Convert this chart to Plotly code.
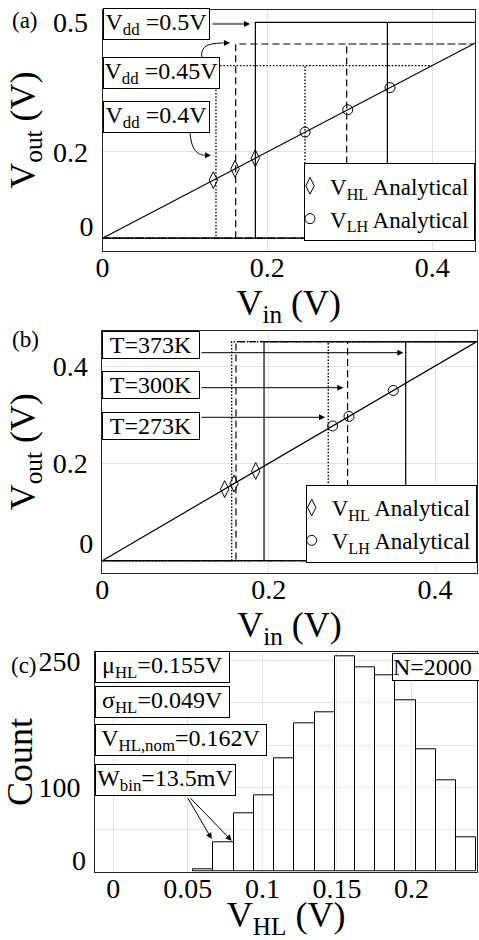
import plotly.graph_objects as go

W, H = 479, 940
FONT = "Liberation Serif, Times New Roman, serif"

# ---------------- data: panel (a) supply-voltage sweep ----------------
A_VDD = [0.4, 0.45, 0.5]
A_VDD_LABELS = ["V<sub>dd</sub> =0.4V", "V<sub>dd</sub> =0.45V", "V<sub>dd</sub> =0.5V"]
A_VHL_SIM = [0.1377, 0.1616, 0.1855]
A_VLH_SIM = [0.2457, 0.2963, 0.3457]
A_VHL_ANA = [0.1345, 0.1608, 0.1854]
A_VLH_ANA = [0.2458, 0.2976, 0.3489]

# ---------------- data: panel (b) temperature sweep ----------------
B_VDD = 0.45
B_TEMP_LABELS = ["T=273K", "T=300K", "T=373K"]
B_VHL_SIM = [0.1555, 0.1607, 0.1944]
B_VLH_SIM = [0.2716, 0.2948, 0.3647]
B_VHL_ANA = [0.1471, 0.1583, 0.1844]
B_VLH_ANA = [0.2769, 0.2965, 0.3498]

# ---------------- data: panel (c) histogram ----------------
C_BIN_START = 0.0536
C_BIN_WIDTH = 0.01357
C_COUNTS = [3, 35, 69, 90, 134, 176, 189, 255, 242, 233, 203, 145, 108, 41]
C_STATS = ["μ<sub>HL</sub>=0.155V", "σ<sub>HL</sub>=0.049V",
           "V<sub>HL,nom</sub>=0.162V", "W<sub>bin</sub>=13.5mV"]
C_N_LABEL = "N=2000"

DIAG = [0, 0.5]
A_XTICKS = [0, 0.2, 0.4]
A_YTICKS = [0, 0.2, 0.5]
B_XTICKS = [0, 0.2, 0.4]
B_YTICKS = [0, 0.2, 0.4]
C_XTICKS = [0, 0.05, 0.1, 0.15, 0.2]
C_YTICKS = [0, 50, 100, 150, 200, 250]
C_YLABELED = [100, 250]

STYLES = ["dot", "dash", "solid"]
DASH = {"dot": "1.5px,1.8px", "dash": "7px,4px", "solid": "solid"}
WIDTH = {"dot": 1.4, "dash": 1.2, "solid": 1.2}


def PX(x):
    return x / W


def PY(y):
    return 1 - y / H


def loop(vhl, vlh, vdd):
    return [0, vlh, vlh, vdd, vhl, vhl, 0], [0, 0, vdd, vdd, vdd, 0, 0]


fig = go.Figure()

# ---- panel (a)
fig.add_trace(go.Scatter(x=DIAG, y=DIAG, mode="lines", line=dict(color="black", width=1.2),
                         showlegend=False, hoverinfo="skip", xaxis="x", yaxis="y"))
for vhl, vlh, vdd, st in zip(A_VHL_SIM, A_VLH_SIM, A_VDD, STYLES):
    xs, ys = loop(vhl, vlh, vdd)
    fig.add_trace(go.Scatter(x=xs, y=ys, mode="lines",
                             line=dict(color="black", width=WIDTH[st], dash=DASH[st]),
                             showlegend=False, xaxis="x", yaxis="y"))
fig.add_trace(go.Scatter(x=A_VHL_ANA, y=A_VHL_ANA, mode="markers", name="V<sub>HL</sub> Analytical",
                         marker=dict(symbol="diamond-tall-open", size=12, color="black", line=dict(width=1)),
                         xaxis="x", yaxis="y", legend="legend"))
fig.add_trace(go.Scatter(x=A_VLH_ANA, y=A_VLH_ANA, mode="markers", name="V<sub>LH</sub> Analytical",
                         marker=dict(symbol="circle-open", size=10, color="black", line=dict(width=1)),
                         xaxis="x", yaxis="y", legend="legend"))

# ---- panel (b)
fig.add_trace(go.Scatter(x=DIAG, y=DIAG, mode="lines", line=dict(color="black", width=1.2),
                         showlegend=False, hoverinfo="skip", xaxis="x2", yaxis="y2"))
for vhl, vlh, st in zip(B_VHL_SIM, B_VLH_SIM, STYLES):
    xs, ys = loop(vhl, vlh, B_VDD)
    fig.add_trace(go.Scatter(x=xs, y=ys, mode="lines",
                             line=dict(color="black", width=WIDTH[st], dash=DASH[st]),
                             showlegend=False, xaxis="x2", yaxis="y2"))
fig.add_trace(go.Scatter(x=B_VHL_ANA, y=B_VHL_ANA, mode="markers", name="V<sub>HL</sub> Analytical",
                         marker=dict(symbol="diamond-tall-open", size=12, color="black", line=dict(width=1)),
                         xaxis="x2", yaxis="y2", legend="legend2"))
fig.add_trace(go.Scatter(x=B_VLH_ANA, y=B_VLH_ANA, mode="markers", name="V<sub>LH</sub> Analytical",
                         marker=dict(symbol="circle-open", size=10, color="black", line=dict(width=1)),
                         xaxis="x2", yaxis="y2", legend="legend2"))

# ---- panel (c)
centers = [C_BIN_START + C_BIN_WIDTH * (i + 0.5) for i in range(len(C_COUNTS))]
fig.add_trace(go.Bar(x=centers, y=C_COUNTS, width=C_BIN_WIDTH,
                     marker=dict(color="rgba(255,255,255,0.35)", line=dict(color="black", width=1)),
                     showlegend=False, xaxis="x3", yaxis="y3"))

# empty traces for the overlay axes carrying the lifted "0" labels
for ya, xa in (("y4", "x"), ("y5", "x2"), ("y6", "x3")):
    fig.add_trace(go.Scatter(x=[], y=[], showlegend=False, xaxis=xa, yaxis=ya, hoverinfo="skip"))

GRID = "#e2e2e2"
LINE = "#262626"
TICKF = dict(family=FONT, size=28, color="black")
TITLEF = dict(family=FONT, size=36, color="black")


def xaxis(dom, rng, vals, title, anchor):
    return dict(domain=dom, range=rng, tickvals=vals, ticktext=[f"{v:g}" for v in vals],
                showgrid=True, gridcolor=GRID, zeroline=False, showline=True, linecolor=LINE,
                linewidth=1, mirror=True, ticks="", tickfont=TICKF, ticklabelstandoff=-8,
                title=dict(text=title, font=TITLEF, standoff=0), anchor=anchor,
                automargin=False, fixedrange=True)


def yaxis(dom, rng, vals, text, title, anchor):
    return dict(domain=dom, range=rng, tickvals=vals, ticktext=text,
                showgrid=True, gridcolor=GRID, zeroline=False, showline=True, linecolor=LINE,
                linewidth=1, mirror=True, ticks="", tickfont=TICKF, ticklabelstandoff=8,
                title=dict(text=title, font=TITLEF, standoff=6), anchor=anchor,
                automargin=False, fixedrange=True)


def zero_axis(over, rng, anchor, shift):
    return dict(overlaying=over, anchor=anchor, range=rng, tickvals=[0], ticktext=["0"],
                showgrid=False, zeroline=False, showline=False, ticks="", tickfont=TICKF,
                ticklabelstandoff=8, ticklabelshift=shift, side="left",
                automargin=False, fixedrange=True)


def legend_at(xr, yt):
    return dict(x=PX(xr), y=PY(yt), xanchor="right", yanchor="top", bgcolor="white",
                bordercolor="black", borderwidth=1, font=dict(family=FONT, size=23, color="black"),
                itemwidth=30, tracegroupgap=0, indentation=-15)


A_XR, A_YR = [0, 0.452], [-0.029, 0.53]
B_XR, B_YR = [0, 0.45], [-0.0247, 0.4726]
C_XR, C_YR = [-0.0123, 0.2442], [0, 260]

fig.update_layout(
    width=W, height=H, margin=dict(l=0, r=0, t=0, b=0),
    paper_bgcolor="white", plot_bgcolor="white",
    font=dict(family=FONT, color="black"),
    xaxis=xaxis([PX(102.5), PX(475)], A_XR, A_XTICKS, "V<sub>in</sub> (V)", "y"),
    yaxis=yaxis([PY(250.7), PY(9.5)], A_YR, A_YTICKS,
                ["" if v == 0 else f"{v:g}" for v in A_YTICKS], "V<sub>out</sub> (V)", "x"),
    xaxis2=xaxis([PX(102.3), PX(476.7)], B_XR, B_XTICKS, "V<sub>in</sub> (V)", "y2"),
    yaxis2=yaxis([PY(572.7), PY(330.7)], B_YR, B_YTICKS,
                 ["" if v == 0 else f"{v:g}" for v in B_YTICKS], "V<sub>out</sub> (V)", "x2"),
    xaxis3=xaxis([PX(95), PX(477.3)], C_XR, C_XTICKS, "V<sub>HL</sub> (V)", "y3"),
    yaxis3=yaxis([PY(871.7), PY(652.3)], C_YR, C_YTICKS,
                 [f"{v:g}" if v in C_YLABELED else "" for v in C_YTICKS], "Count", "x3"),
    yaxis4=zero_axis("y", A_YR, "x", -12),
    yaxis5=zero_axis("y2", B_YR, "x2", -17),
    yaxis6=zero_axis("y3", C_YR, "x3", -12),
    legend=legend_at(475, 163.3),
    legend2=legend_at(476.7, 485),
    bargap=0,
)

ann = []
shapes = []


def box(text, x0, x1, y0, y1, size=24, align="center"):
    ann.append(dict(text=text, xref="paper", yref="paper", x=PX((x0 + x1) / 2), y=PY((y0 + y1) / 2),
                    xanchor="center", yanchor="middle", showarrow=False, width=x1 - x0 - 2,
                    bgcolor="white", bordercolor="black", borderwidth=1, borderpad=0,
                    font=dict(family=FONT, size=size, color="black"), align=align))


def arrow(tx, ty, hx, hy):
    ann.append(dict(text="", xref="paper", yref="paper", x=PX(hx), y=PY(hy),
                    ax=tx - hx, ay=ty - hy, showarrow=True, arrowhead=2, arrowsize=1.2,
                    arrowwidth=1, arrowcolor="black", standoff=0, startstandoff=0))


def curve(path_pts):
    (x0, y0), (c1x, c1y), (c2x, c2y), (x1, y1) = path_pts
    shapes.append(dict(type="path", xref="paper", yref="paper",
                       path=f"M {PX(x0)},{PY(y0)} C {PX(c1x)},{PY(c1y)} {PX(c2x)},{PY(c2y)} {PX(x1)},{PY(y1)}",
                       line=dict(color="black", width=1)))


# panel (a) labels
box(A_VDD_LABELS[2], 103.3, 210, 10, 38.3)
box(A_VDD_LABELS[1], 103.3, 220, 59.3, 87.3)
box(A_VDD_LABELS[0], 103.3, 210, 102.7, 131.7)
arrow(211, 24, 250, 24)
curve([(202, 59.3), (200, 47), (206, 43.5), (222, 43)])
arrow(221, 43, 230, 42.7)
curve([(190, 131.7), (191, 148), (196, 154), (203, 155)])
arrow(202, 155, 211, 155.5)

# panel (b) labels
box(B_TEMP_LABELS[2], 102.3, 200, 330.7, 359.3)
box(B_TEMP_LABELS[1], 102.3, 200, 370, 399.3)
box(B_TEMP_LABELS[0], 102.3, 200, 411, 440.7)
arrow(200, 352.7, 403.3, 352.7)
arrow(200, 387.7, 343.3, 387.7)
arrow(200, 417.3, 325, 417.3)

# panel (c) labels
box(C_STATS[0], 95, 230, 652.3, 680.7)
box(C_STATS[1], 95, 230, 687, 717.3)
box(C_STATS[2], 95, 266.7, 724, 756.7)
box(C_STATS[3], 95, 235.7, 763.3, 796)
box(C_N_LABEL, 392, 486, 652.3, 680.7, align="left")
arrow(187, 796.7, 211.7, 839)
arrow(189, 796.7, 231.7, 840.7)

# panel letters
for t, x, y in (("(a)", 25, 20), ("(b)", 25, 340), ("(c)", 24, 665)):
    ann.append(dict(text=t, xref="paper", yref="paper", x=PX(x), y=PY(y), xanchor="center",
                    yanchor="middle", showarrow=False, font=dict(family=FONT, size=23, color="black")))

fig.update_layout(annotations=ann, shapes=shapes)
fig.write_html("out.html", config={"displayModeBar": False},
               post_script="document.body.style.margin='0';")
